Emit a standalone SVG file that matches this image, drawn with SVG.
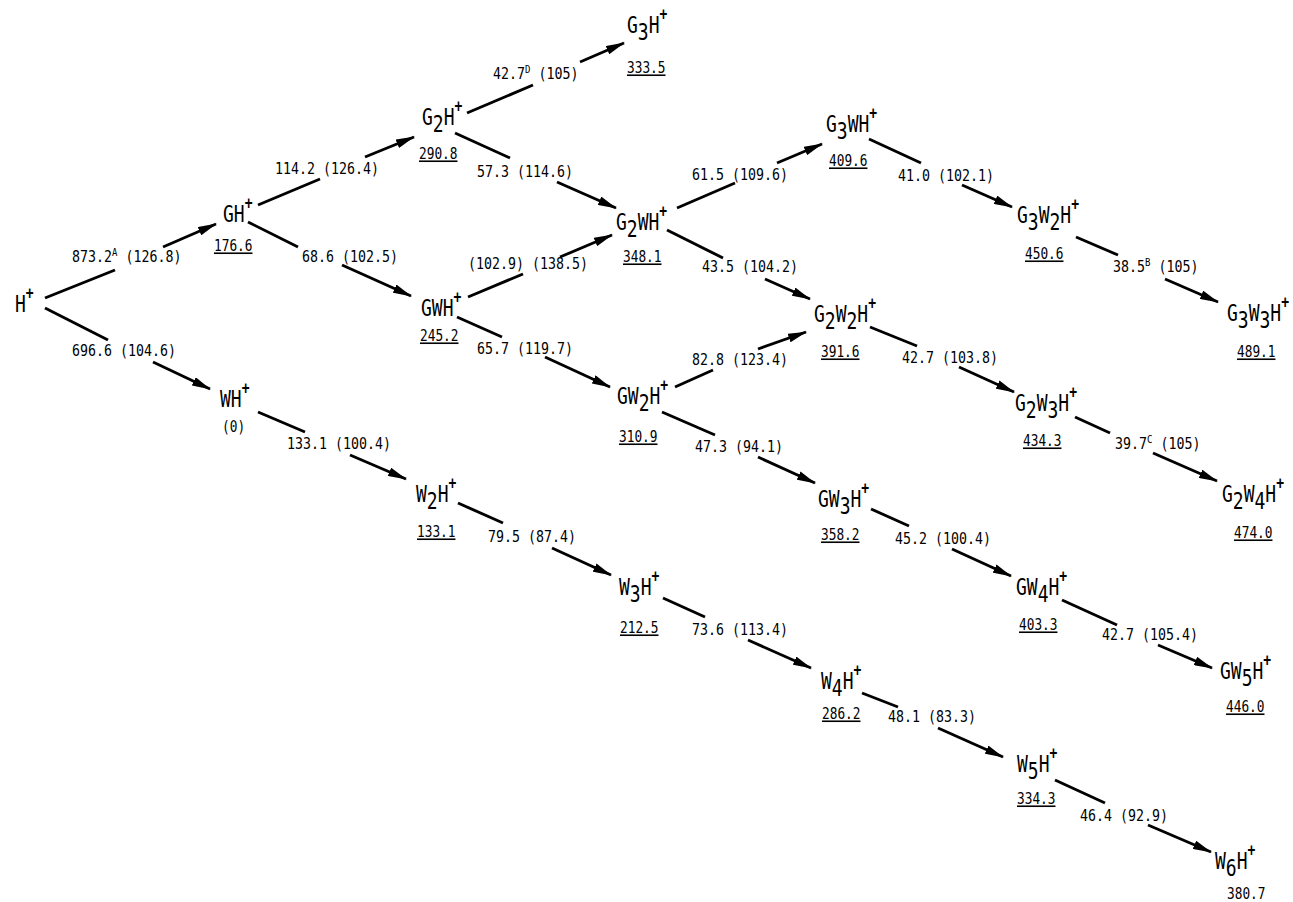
<svg xmlns="http://www.w3.org/2000/svg" width="1293" height="902" viewBox="0 0 1293 902">
<style>
text { font-family: "DejaVu Sans Mono", "Liberation Mono", monospace; fill: #000; transform-box: fill-box; transform-origin: left bottom; }
.n { font-size: 18px; transform: scaleY(1.3); }
.sp { font-size: 13px; font-weight: bold; }
.v { font-size: 12.8px; transform: scaleY(1.25); }
.u { text-decoration: underline; }
.e { font-size: 13.3px; transform: scaleY(1.25); }
.es { font-size: 9px; }
.c line { stroke: #000; stroke-width: 2.9; fill: none; }
.c line.a { marker-end: url(#ah); }
</style>
<defs>
<marker id="ah" viewBox="0 0 19 9" refX="18" refY="4.5" markerWidth="19" markerHeight="9" markerUnits="userSpaceOnUse" orient="auto">
<path d="M0,0 L19,4.5 L0,9 z" fill="#000"/>
</marker>
</defs>
<rect width="1293" height="902" fill="#fff"/>

<g id="connectors" class="c">
<line x1="45" y1="298" x2="115" y2="270"/><line class="a" x1="163" y1="247" x2="216" y2="224"/>
<line x1="45" y1="308" x2="108" y2="340"/><line class="a" x1="153" y1="362" x2="210" y2="389"/>
<line x1="258" y1="205" x2="320" y2="179"/><line class="a" x1="365" y1="157" x2="414" y2="137"/>
<line x1="248" y1="222" x2="298" y2="247"/><line class="a" x1="342" y1="265" x2="411" y2="296"/>
<line x1="467" y1="113" x2="533" y2="85"/><line class="a" x1="580" y1="62" x2="624" y2="43"/>
<line x1="455" y1="133" x2="510" y2="158"/><line class="a" x1="557" y1="182" x2="616" y2="208"/>
<line x1="468" y1="297" x2="523" y2="274"/><line class="a" x1="560" y1="257" x2="612" y2="235"/>
<line x1="457" y1="317" x2="502" y2="337"/><line class="a" x1="545" y1="357" x2="610" y2="387"/>
<line x1="677" y1="208" x2="735" y2="183"/><line class="a" x1="777" y1="163" x2="822" y2="144"/>
<line x1="667" y1="230" x2="723" y2="258"/><line class="a" x1="765" y1="279" x2="810" y2="299"/>
<line x1="675" y1="387" x2="713" y2="370"/><line class="a" x1="758" y1="349" x2="806" y2="332"/>
<line x1="662" y1="412" x2="715" y2="435"/><line class="a" x1="758" y1="457" x2="815" y2="483"/>
<line x1="869" y1="139" x2="921" y2="163"/><line class="a" x1="962" y1="185" x2="1012" y2="207"/>
<line x1="1076" y1="237" x2="1118" y2="255"/><line class="a" x1="1165" y1="279" x2="1218" y2="302"/>
<line x1="870" y1="327" x2="917" y2="346"/><line class="a" x1="959" y1="367" x2="1014" y2="392"/>
<line x1="1075" y1="417" x2="1110" y2="433"/><line class="a" x1="1153" y1="453" x2="1217" y2="481"/>
<line x1="871" y1="509" x2="909" y2="526"/><line class="a" x1="952" y1="549" x2="1011" y2="576"/>
<line x1="1062" y1="600" x2="1117" y2="625"/><line class="a" x1="1158" y1="645" x2="1212" y2="668"/>
<line x1="258" y1="412" x2="305" y2="432"/><line class="a" x1="350" y1="455" x2="406" y2="479"/>
<line x1="458" y1="503" x2="503" y2="523"/><line class="a" x1="552" y1="548" x2="611" y2="575"/>
<line x1="663" y1="598" x2="705" y2="617"/><line class="a" x1="748" y1="640" x2="811" y2="668"/>
<line x1="862" y1="693" x2="898" y2="707"/><line class="a" x1="938" y1="728" x2="1003" y2="757"/>
<line x1="1055" y1="780" x2="1105" y2="803"/><line class="a" x1="1148" y1="825" x2="1211" y2="852"/>
</g>

<g id="edge-labels">
<text class="e" x="72" y="263">873.2<tspan class="es" dy="-5">A</tspan><tspan dy="5"> (126.8)</tspan></text>
<text class="e" x="72" y="357">696.6 (104.6)</text>
<text class="e" x="275" y="175">114.2 (126.4)</text>
<text class="e" x="302" y="263">68.6 (102.5)</text>
<text class="e" x="493" y="80">42.7<tspan class="es" dy="-5">D</tspan><tspan dy="5"> (105)</tspan></text>
<text class="e" x="477" y="178">57.3 (114.6)</text>
<text class="e" x="468" y="270">(102.9) (138.5)</text>
<text class="e" x="477" y="355">65.7 (119.7)</text>
<text class="e" x="692" y="181">61.5 (109.6)</text>
<text class="e" x="702" y="273">43.5 (104.2)</text>
<text class="e" x="692" y="366">82.8 (123.4)</text>
<text class="e" x="695" y="453">47.3 (94.1)</text>
<text class="e" x="898" y="182">41.0 (102.1)</text>
<text class="e" x="1113" y="273">38.5<tspan class="es" dy="-5">B</tspan><tspan dy="5"> (105)</tspan></text>
<text class="e" x="902" y="364">42.7 (103.8)</text>
<text class="e" x="1115" y="450">39.7<tspan class="es" dy="-5">C</tspan><tspan dy="5"> (105)</tspan></text>
<text class="e" x="895" y="545">45.2 (100.4)</text>
<text class="e" x="1102" y="641">42.7 (105.4)</text>
<text class="e" x="287" y="450">133.1 (100.4)</text>
<text class="e" x="488" y="543">79.5 (87.4)</text>
<text class="e" x="692" y="636">73.6 (113.4)</text>
<text class="e" x="888" y="723">48.1 (83.3)</text>
<text class="e" x="1080" y="822">46.4 (92.9)</text>
</g>

<g id="n-H"><text class="n" x="15" y="313">H<tspan class="sp" dy="-10">+</tspan></text></g>
<g id="n-GH"><text class="n" x="223" y="223">GH<tspan class="sp" dy="-10">+</tspan></text><text class="v u" x="214" y="252">176.6</text></g>
<g id="n-G2H"><text class="n" x="422" y="128">G<tspan dy="5">2</tspan><tspan dy="-5">H</tspan><tspan class="sp" dy="-10">+</tspan></text><text class="v u" x="419" y="160">290.8</text></g>
<g id="n-G3H"><text class="n" x="627" y="36">G<tspan dy="5">3</tspan><tspan dy="-5">H</tspan><tspan class="sp" dy="-10">+</tspan></text><text class="v u" x="627" y="74">333.5</text></g>
<g id="n-G2WH"><text class="n" x="616" y="233">G<tspan dy="5">2</tspan><tspan dy="-5">WH</tspan><tspan class="sp" dy="-10">+</tspan></text><text class="v u" x="623" y="263">348.1</text></g>
<g id="n-GWH"><text class="n" x="421" y="317">GWH<tspan class="sp" dy="-10">+</tspan></text><text class="v u" x="420" y="342">245.2</text></g>
<g id="n-GW2H"><text class="n" x="617" y="407">GW<tspan dy="5">2</tspan><tspan dy="-5">H</tspan><tspan class="sp" dy="-10">+</tspan></text><text class="v u" x="619" y="443">310.9</text></g>
<g id="n-WH"><text class="n" x="220" y="408">WH<tspan class="sp" dy="-10">+</tspan></text><text class="v" x="222" y="433">(0)</text></g>
<g id="n-W2H"><text class="n" x="416" y="505">W<tspan dy="5">2</tspan><tspan dy="-5">H</tspan><tspan class="sp" dy="-10">+</tspan></text><text class="v u" x="417" y="538">133.1</text></g>
<g id="n-W3H"><text class="n" x="619" y="598">W<tspan dy="5">3</tspan><tspan dy="-5">H</tspan><tspan class="sp" dy="-10">+</tspan></text><text class="v u" x="620" y="634">212.5</text></g>
<g id="n-W4H"><text class="n" x="821" y="692">W<tspan dy="5">4</tspan><tspan dy="-5">H</tspan><tspan class="sp" dy="-10">+</tspan></text><text class="v u" x="822" y="720">286.2</text></g>
<g id="n-W5H"><text class="n" x="1017" y="775">W<tspan dy="5">5</tspan><tspan dy="-5">H</tspan><tspan class="sp" dy="-10">+</tspan></text><text class="v u" x="1017" y="805">334.3</text></g>
<g id="n-W6H"><text class="n" x="1215" y="872">W<tspan dy="5">6</tspan><tspan dy="-5">H</tspan><tspan class="sp" dy="-10">+</tspan></text><text class="v" x="1227" y="900">380.7</text></g>
<g id="n-G3WH"><text class="n" x="826" y="135">G<tspan dy="5">3</tspan><tspan dy="-5">WH</tspan><tspan class="sp" dy="-10">+</tspan></text><text class="v u" x="829" y="167">409.6</text></g>
<g id="n-G3W2H"><text class="n" x="1017" y="226">G<tspan dy="5">3</tspan><tspan dy="-5">W</tspan><tspan dy="5">2</tspan><tspan dy="-5">H</tspan><tspan class="sp" dy="-10">+</tspan></text><text class="v u" x="1025" y="260">450.6</text></g>
<g id="n-G2W2H"><text class="n" x="814" y="325">G<tspan dy="5">2</tspan><tspan dy="-5">W</tspan><tspan dy="5">2</tspan><tspan dy="-5">H</tspan><tspan class="sp" dy="-10">+</tspan></text><text class="v u" x="821" y="358">391.6</text></g>
<g id="n-G3W3H"><text class="n" x="1227" y="324">G<tspan dy="5">3</tspan><tspan dy="-5">W</tspan><tspan dy="5">3</tspan><tspan dy="-5">H</tspan><tspan class="sp" dy="-10">+</tspan></text><text class="v u" x="1237" y="358">489.1</text></g>
<g id="n-G2W3H"><text class="n" x="1015" y="414">G<tspan dy="5">2</tspan><tspan dy="-5">W</tspan><tspan dy="5">3</tspan><tspan dy="-5">H</tspan><tspan class="sp" dy="-10">+</tspan></text><text class="v u" x="1023" y="447">434.3</text></g>
<g id="n-G2W4H"><text class="n" x="1222" y="505">G<tspan dy="5">2</tspan><tspan dy="-5">W</tspan><tspan dy="5">4</tspan><tspan dy="-5">H</tspan><tspan class="sp" dy="-10">+</tspan></text><text class="v u" x="1234" y="539">474.0</text></g>
<g id="n-GW3H"><text class="n" x="818" y="510">GW<tspan dy="5">3</tspan><tspan dy="-5">H</tspan><tspan class="sp" dy="-10">+</tspan></text><text class="v u" x="821" y="541">358.2</text></g>
<g id="n-GW4H"><text class="n" x="1016" y="598">GW<tspan dy="5">4</tspan><tspan dy="-5">H</tspan><tspan class="sp" dy="-10">+</tspan></text><text class="v u" x="1019" y="631">403.3</text></g>
<g id="n-GW5H"><text class="n" x="1220" y="682">GW<tspan dy="5">5</tspan><tspan dy="-5">H</tspan><tspan class="sp" dy="-10">+</tspan></text><text class="v u" x="1226" y="713">446.0</text></g>
</svg>
